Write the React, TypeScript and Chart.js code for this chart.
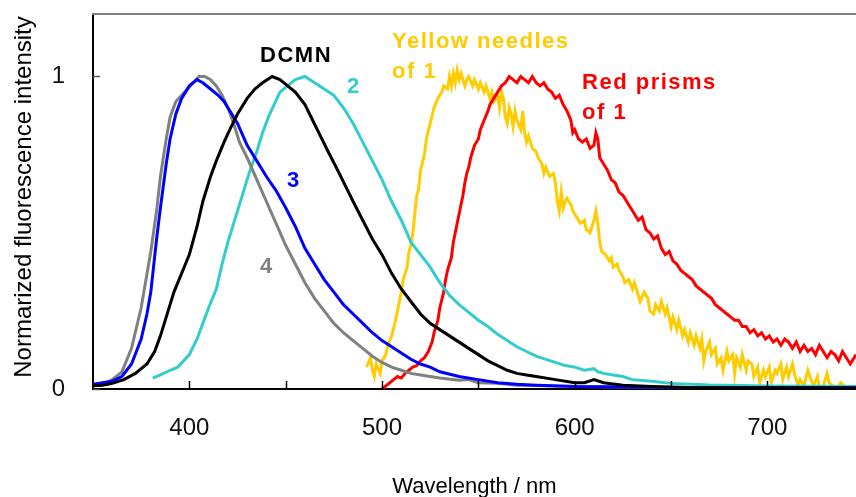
import React, { useEffect, useRef } from 'react';
import { Chart, registerables } from 'chart.js';
Chart.register(...registerables);

const X_MIN = 350;
const X_MAX = 746;
const Y_MIN = 0;
const Y_MAX = 1.2;
const xTickValues = [400, 450, 500, 550, 600, 650, 700];
const xLabelValues = [400, 500, 600, 700];
const yTickValues = [0, 1];
const xTitle = 'Wavelength / nm';
const yTitle = 'Normarized fluorescence intensity';

// compound 4 (gray)
const gray4: [number, number][] = [
  [350, 0.01], [355, 0.015], [360, 0.03], [365, 0.055], [370, 0.13], [375, 0.26], [380, 0.44], [383, 0.57],
  [385, 0.68], [388, 0.8], [390, 0.87], [393, 0.92], [396, 0.94], [399, 0.96], [402, 0.98], [405, 1.0],
  [408, 1.0], [411, 0.99], [414, 0.97], [417, 0.94], [420, 0.9], [423, 0.85], [426, 0.79], [430, 0.74],
  [435, 0.67], [440, 0.6], [445, 0.53], [450, 0.46], [455, 0.4], [460, 0.34], [465, 0.29], [470, 0.25],
  [475, 0.21], [480, 0.18], [485, 0.155], [490, 0.13], [495, 0.105], [500, 0.085], [505, 0.07], [510, 0.06],
  [515, 0.05], [520, 0.045], [530, 0.035], [540, 0.028], [545, 0.03], [550, 0.02], [560, 0.018], [570, 0.012],
  [585, 0.01], [600, 0.008], [650, 0.005], [700, 0.004], [746, 0.003],
];

// compound 3 (blue)
const blue3: [number, number][] = [
  [350, 0.015], [355, 0.02], [360, 0.025], [365, 0.04], [370, 0.08], [375, 0.16], [378, 0.24], [380, 0.31],
  [383, 0.48], [385, 0.58], [388, 0.72], [390, 0.8], [393, 0.88], [396, 0.93], [400, 0.97], [404, 0.99],
  [407, 0.98], [411, 0.96], [415, 0.94], [418, 0.92], [422, 0.88], [425, 0.85], [430, 0.78], [435, 0.73],
  [440, 0.68], [445, 0.635], [450, 0.58], [455, 0.52], [460, 0.45], [465, 0.4], [470, 0.35], [475, 0.31],
  [480, 0.27], [485, 0.24], [490, 0.21], [495, 0.18], [500, 0.155], [505, 0.135], [510, 0.115], [515, 0.095],
  [520, 0.08], [525, 0.07], [530, 0.055], [540, 0.04], [550, 0.03], [560, 0.02], [570, 0.015], [580, 0.012],
  [600, 0.008], [650, 0.005], [700, 0.004], [746, 0.004],
];

// DCMN (black)
const dcmn: [number, number][] = [
  [350, 0.01], [355, 0.012], [360, 0.018], [366, 0.03], [372, 0.05], [378, 0.08], [382, 0.12], [385, 0.17],
  [388, 0.23], [392, 0.31], [396, 0.37], [400, 0.43], [404, 0.52], [407, 0.6], [411, 0.68], [414, 0.73],
  [418, 0.79], [421, 0.83], [425, 0.88], [430, 0.93], [434, 0.96], [438, 0.98], [443, 1.0], [447, 0.99],
  [451, 0.97], [455, 0.95], [460, 0.91], [464, 0.86], [468, 0.81], [472, 0.76], [477, 0.7], [481, 0.65],
  [485, 0.6], [490, 0.54], [495, 0.48], [500, 0.43], [505, 0.37], [510, 0.32], [515, 0.28], [520, 0.24],
  [525, 0.21], [530, 0.19], [535, 0.17], [540, 0.15], [545, 0.13], [550, 0.11], [555, 0.09], [560, 0.075],
  [565, 0.06], [570, 0.05], [575, 0.045], [580, 0.04], [590, 0.03], [600, 0.02], [605, 0.02], [610, 0.03],
  [615, 0.02], [625, 0.012], [640, 0.008], [660, 0.005], [700, 0.004], [746, 0.003],
];

// compound 2 (cyan)
const cyan2: [number, number][] = [
  [381, 0.035], [385, 0.045], [390, 0.06], [394, 0.07], [397, 0.09], [400, 0.11], [404, 0.16], [407, 0.21],
  [410, 0.26], [414, 0.32], [417, 0.4], [420, 0.47], [423, 0.53], [425, 0.57], [428, 0.63], [431, 0.69],
  [435, 0.76], [438, 0.82], [441, 0.87], [444, 0.91], [447, 0.95], [451, 0.97], [455, 0.99], [460, 1.0],
  [465, 0.98], [470, 0.96], [475, 0.94], [480, 0.9], [485, 0.85], [490, 0.79], [495, 0.73], [500, 0.67],
  [505, 0.6], [510, 0.54], [515, 0.47], [520, 0.43], [525, 0.39], [530, 0.34], [535, 0.3], [540, 0.27],
  [545, 0.245], [550, 0.22], [555, 0.2], [560, 0.175], [565, 0.155], [570, 0.135], [575, 0.12], [580, 0.105],
  [585, 0.095], [590, 0.085], [595, 0.075], [600, 0.07], [605, 0.06], [610, 0.065], [612, 0.055], [615, 0.05],
  [620, 0.045], [625, 0.04], [630, 0.03], [640, 0.025], [650, 0.018], [670, 0.013], [700, 0.01], [746, 0.008],
];

// yellow needles of 1
const yellowNeedles: [number, number][] = [
  [492, 0.07], [494, 0.1], [495, 0.06], [496, 0.04], [497, 0.08], [499, 0.05], [500, 0.09], [502, 0.11],
  [503, 0.14], [505, 0.17], [507, 0.22], [508, 0.25], [510, 0.31], [511, 0.35], [513, 0.39], [514, 0.44],
  [515, 0.46], [516, 0.5], [517, 0.56], [518, 0.62], [519, 0.64], [520, 0.7], [522, 0.75], [523, 0.8],
  [525, 0.85], [527, 0.9], [529, 0.93], [531, 0.95], [532, 0.97], [534, 0.96], [535, 1.0], [536, 0.97],
  [537, 1.01], [538, 0.98], [539, 1.02], [540, 0.99], [541, 1.01], [543, 0.97], [544, 0.99], [545, 1.0],
  [547, 0.97], [548, 0.99], [550, 0.96], [551, 0.98], [553, 0.95], [554, 0.97], [556, 0.93], [557, 0.95],
  [558, 0.92], [560, 0.94], [561, 0.9], [562, 0.95], [563, 0.93], [564, 0.87], [565, 0.85], [566, 0.9],
  [567, 0.88], [568, 0.84], [569, 0.89], [570, 0.86], [572, 0.83], [573, 0.89], [574, 0.82], [575, 0.79],
  [576, 0.81], [578, 0.77], [580, 0.76], [581, 0.74], [583, 0.72], [584, 0.69], [585, 0.71], [587, 0.68],
  [589, 0.69], [590, 0.66], [591, 0.6], [592, 0.57], [593, 0.63], [594, 0.58], [595, 0.6], [596, 0.61],
  [598, 0.59], [599, 0.57], [601, 0.55], [603, 0.53], [605, 0.54], [606, 0.51], [608, 0.5], [610, 0.54],
  [611, 0.57], [612, 0.53], [613, 0.47], [614, 0.44], [616, 0.43], [618, 0.41], [619, 0.42], [620, 0.39],
  [622, 0.4], [623, 0.38], [625, 0.36], [626, 0.34], [628, 0.35], [630, 0.32], [631, 0.34], [633, 0.3],
  [634, 0.28], [636, 0.31], [638, 0.29], [639, 0.25], [641, 0.24], [642, 0.27], [644, 0.25], [645, 0.28],
  [647, 0.24], [648, 0.26], [650, 0.2], [651, 0.23], [653, 0.19], [654, 0.22], [656, 0.17], [657, 0.19],
  [659, 0.15], [660, 0.18], [662, 0.14], [663, 0.17], [665, 0.13], [666, 0.16], [667, 0.09], [668, 0.12],
  [670, 0.15], [671, 0.11], [673, 0.13], [674, 0.08], [676, 0.1], [677, 0.06], [679, 0.12], [680, 0.09],
  [682, 0.11], [683, 0.05], [684, 0.1], [686, 0.07], [687, 0.11], [689, 0.06], [690, 0.09], [692, 0.08],
  [693, 0.04], [695, 0.07], [696, 0.02], [698, 0.06], [699, 0.04], [701, 0.07], [702, 0.02], [704, 0.06],
  [705, 0.05], [707, 0.08], [708, 0.03], [710, 0.07], [711, 0.04], [713, 0.08], [714, 0.05], [716, 0.01],
  [717, 0.03], [719, 0.01], [721, 0.06], [722, 0.04], [724, 0.01], [726, 0.04], [727, 0.0], [729, 0.01],
  [731, 0.05], [732, 0.02], [734, 0.01], [736, 0.0], [738, 0.02], [740, 0.01], [742, 0.0], [746, 0.01],
];

// red prisms of 1
const redPrisms: [number, number][] = [
  [500, 0.0], [502, 0.01], [504, 0.02], [506, 0.03], [508, 0.04], [510, 0.035], [512, 0.05], [514, 0.06],
  [516, 0.07], [518, 0.075], [520, 0.09], [522, 0.1], [524, 0.12], [526, 0.15], [527, 0.18], [529, 0.22],
  [530, 0.26], [532, 0.31], [533, 0.35], [534, 0.38], [535, 0.4], [536, 0.42], [537, 0.47], [538, 0.5],
  [539, 0.53], [540, 0.56], [541, 0.59], [542, 0.62], [543, 0.66], [544, 0.69], [545, 0.71], [546, 0.74],
  [547, 0.76], [548, 0.78], [550, 0.8], [551, 0.83], [553, 0.86], [555, 0.89], [556, 0.91], [558, 0.93],
  [560, 0.95], [562, 0.97], [564, 0.98], [566, 1.0], [568, 0.99], [570, 0.98], [572, 1.0], [574, 0.99],
  [576, 0.98], [578, 1.0], [580, 0.98], [582, 0.97], [584, 0.98], [586, 0.96], [588, 0.95], [590, 0.93],
  [592, 0.94], [594, 0.91], [596, 0.89], [598, 0.86], [599, 0.82], [600, 0.83], [602, 0.8], [604, 0.79],
  [606, 0.8], [608, 0.77], [610, 0.78], [611, 0.82], [612, 0.8], [613, 0.74], [615, 0.72], [617, 0.7],
  [619, 0.67], [621, 0.66], [623, 0.63], [625, 0.62], [627, 0.6], [629, 0.58], [631, 0.56], [633, 0.54],
  [635, 0.55], [637, 0.51], [639, 0.5], [641, 0.48], [643, 0.49], [645, 0.45], [647, 0.43], [649, 0.44],
  [651, 0.41], [653, 0.4], [655, 0.38], [657, 0.37], [659, 0.36], [661, 0.35], [663, 0.33], [665, 0.32],
  [667, 0.31], [669, 0.3], [671, 0.29], [673, 0.27], [675, 0.26], [677, 0.25], [679, 0.24], [681, 0.23],
  [683, 0.22], [685, 0.22], [687, 0.2], [689, 0.2], [691, 0.18], [693, 0.19], [695, 0.17], [697, 0.18],
  [699, 0.16], [701, 0.17], [703, 0.15], [705, 0.16], [707, 0.14], [709, 0.16], [711, 0.15], [713, 0.13],
  [715, 0.15], [717, 0.12], [719, 0.14], [721, 0.12], [723, 0.13], [725, 0.11], [727, 0.14], [729, 0.12],
  [731, 0.1], [733, 0.12], [735, 0.11], [737, 0.09], [739, 0.12], [741, 0.1], [743, 0.08], [746, 0.11],
];

const seriesNames = ['DCMN', '3', '4', '2', 'Red prisms of 1', 'Yellow needles of 1'];
const seriesColors = ['#000000', '#0000FF', '#808080', '#33CCCC', '#FF0000', '#FFCC00'];
const seriesData = [dcmn, blue3, gray4, cyan2, redPrisms, yellowNeedles];

// annotation texts, anchored in data units (wavelength, intensity)
const annotations = [
  { lines: ['DCMN'], x: 436.7, y: 1.046, color: '#000000' },
  { lines: ['2'], x: 481.8, y: 0.947, color: '#33CCCC' },
  { lines: ['3'], x: 450.7, y: 0.646, color: '#0000FF' },
  { lines: ['4'], x: 436.7, y: 0.371, color: '#808080' },
  { lines: ['Yellow needles', 'of 1'], x: 505.2, y: 1.091, color: '#FFCC00' },
  { lines: ['Red prisms', 'of 1'], x: 603.8, y: 0.96, color: '#FF0000' },
];

export default function App() {
  const ref = useRef<HTMLCanvasElement>(null);

  useEffect(() => {
    const canvas = ref.current;
    if (!canvas) return;

    const overlay = {
      id: 'overlay',
      afterDraw(chart: any) {
        const { ctx, chartArea: a } = chart;
        const xs = chart.scales.x;
        const ys = chart.scales.y;
        ctx.save();
        // top frame line
        ctx.strokeStyle = '#808080';
        ctx.lineWidth = 2;
        ctx.beginPath();
        ctx.moveTo(a.left - 1, a.top);
        ctx.lineTo(a.right, a.top);
        ctx.stroke();
        // inward tick marks
        ctx.strokeStyle = '#000000';
        ctx.lineWidth = 1.5;
        xTickValues.forEach((v) => {
          const px = Math.round(xs.getPixelForValue(v)) + 0.5;
          ctx.beginPath();
          ctx.moveTo(px, a.bottom);
          ctx.lineTo(px, a.bottom - 8);
          ctx.stroke();
        });
        ctx.strokeStyle = '#555555';
        yTickValues.forEach((v) => {
          const py = Math.round(ys.getPixelForValue(v)) + 0.5;
          ctx.beginPath();
          ctx.moveTo(a.left, py);
          ctx.lineTo(a.left + 7, py);
          ctx.stroke();
        });
        // annotations
        ctx.font = 'bold 22px "Liberation Sans", Arial, sans-serif';
        (ctx as any).letterSpacing = '1.5px';
        ctx.textAlign = 'left';
        ctx.textBaseline = 'alphabetic';
        annotations.forEach((an) => {
          const px = xs.getPixelForValue(an.x);
          const py = ys.getPixelForValue(an.y);
          ctx.fillStyle = an.color;
          an.lines.forEach((t, i) => ctx.fillText(t, px, py + i * 29.5));
        });
        (ctx as any).letterSpacing = '0px';
        // axis titles
        ctx.fillStyle = '#000000';
        ctx.font = '22px "Liberation Sans", Arial, sans-serif';
        ctx.textAlign = 'center';
        ctx.fillText(xTitle, (a.left + a.right) / 2, 493);
        ctx.save();
        ctx.translate(31, 197);
        ctx.rotate(-Math.PI / 2);
        ctx.font = '24px "Liberation Sans", Arial, sans-serif';
        ctx.fillText(yTitle, 0, 0);
        ctx.restore();
        ctx.restore();
      },
    };

    const chart = new Chart(canvas, {
      type: 'line',
      data: {
        datasets: seriesData.map((pts, i) => ({
          label: seriesNames[i],
          data: pts.map(([x, y]) => ({ x, y })),
          borderColor: seriesColors[i],
          backgroundColor: seriesColors[i],
          borderWidth: 3,
          pointRadius: 0,
          tension: 0,
          fill: false,
        })),
      },
      options: {
        responsive: false,
        animation: false,
        layout: { autoPadding: false, padding: { top: 14, left: 0, right: 0, bottom: 0 } },
        plugins: { legend: { display: false }, tooltip: { enabled: false } },
        scales: {
          x: {
            type: 'linear',
            min: X_MIN,
            max: X_MAX,
            afterFit: (s: any) => {
              s.height = 108;
              s.paddingLeft = 0;
              s.paddingRight = 0;
            },
            afterBuildTicks: (s: any) => { s.ticks = xLabelValues.map((v) => ({ value: v })); },
            grid: { display: false },
            border: { display: true, color: '#000000', width: 2 },
            ticks: {
              padding: 17,
              maxRotation: 0,
              color: '#111111',
              font: { family: '"Liberation Sans", Arial, sans-serif', size: 24 },
              callback: (v: any) => String(v),
            },
          },
          y: {
            type: 'linear',
            min: Y_MIN,
            max: Y_MAX,
            afterFit: (s: any) => {
              s.width = 93;
              s.paddingTop = 0;
              s.paddingBottom = 0;
            },
            afterBuildTicks: (s: any) => { s.ticks = yTickValues.map((v) => ({ value: v })); },
            grid: { display: false },
            border: { display: true, color: '#000000', width: 2 },
            ticks: {
              padding: 20,
              color: '#111111',
              font: { family: '"Liberation Sans", Arial, sans-serif', size: 24 },
              callback: (v: any) => String(v),
            },
          },
        },
      },
      plugins: [overlay],
    });
    return () => chart.destroy();
  }, []);

  return (
    <div style={{ position: 'fixed', left: 0, top: 0, width: 856, height: 497, background: '#fff' }}>
      <canvas ref={ref} width={856} height={497} style={{ display: 'block', width: 856, height: 497 }} />
    </div>
  );
}
